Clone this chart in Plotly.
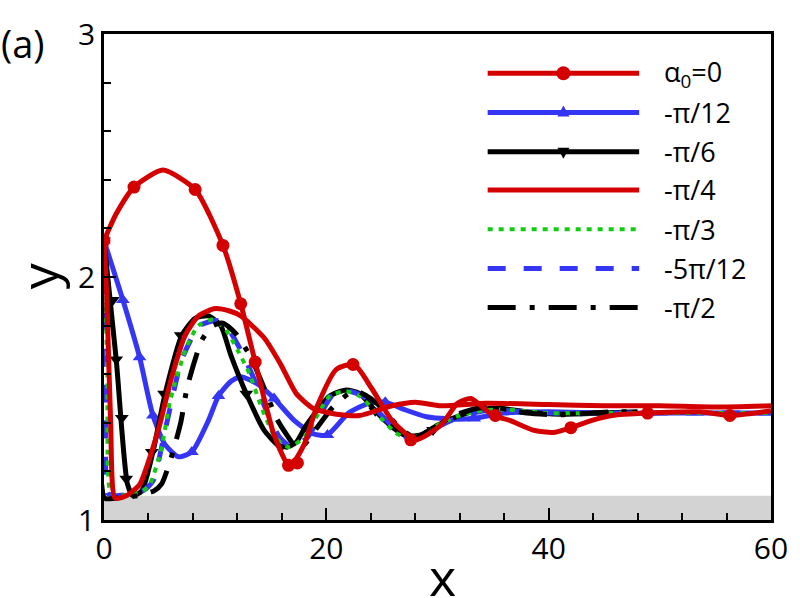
import plotly.graph_objects as go

# ---------------- data ----------------
# alpha0 = 0  (red, circles)
a0_x = [0, 1.1, 2.7, 5.3, 8.2, 10.7, 12.3, 13.6, 15.3, 16.7, 18.0, 19.1, 20.9, 22.5, 24.1, 25.9, 28.0, 30.3, 31.8, 33.0, 35.0, 36.5, 38.6, 40.4, 42.0, 43.9, 45.7, 48.9, 53.6, 56.3, 60]
a0_y = [2.15, 2.26, 2.37, 2.44, 2.36, 2.13, 1.89, 1.65, 1.35, 1.22, 1.31, 1.46, 1.62, 1.64, 1.54, 1.41, 1.33, 1.39, 1.48, 1.50, 1.43, 1.41, 1.37, 1.36, 1.38, 1.41, 1.43, 1.44, 1.445, 1.43, 1.45]
a0_mx = [0, 2.7, 8.2, 10.7, 12.3, 13.6, 16.6, 17.4, 22.4, 27.6, 35.2, 42.0, 48.9, 56.3]
a0_my = [2.15, 2.37, 2.36, 2.13, 1.89, 1.65, 1.225, 1.235, 1.64, 1.33, 1.43, 1.38, 1.44, 1.43]

# -pi/12  (blue, up triangles)
p12_x = [0, 1.7, 3.2, 4.4, 5.5, 6.7, 7.9, 9.4, 10.3, 11.4, 12.3, 13.8, 15.3, 17.1, 18.8, 20.1, 22.0, 23.8, 25.3, 27.0, 29.0, 31.5, 33.5, 36.0, 40.0, 45.0, 50.0, 55.0, 60]
p12_y = [2.15, 1.905, 1.67, 1.43, 1.31, 1.26, 1.28, 1.41, 1.51, 1.57, 1.59, 1.56, 1.50, 1.41, 1.355, 1.35, 1.44, 1.48, 1.485, 1.455, 1.425, 1.415, 1.42, 1.44, 1.445, 1.44, 1.44, 1.44, 1.44]
p12_mx = [0, 1.7, 3.2, 4.4, 7.9, 10.3, 15.3, 20.1, 25.3, 33.3]
p12_my = [2.15, 1.905, 1.67, 1.43, 1.28, 1.51, 1.50, 1.35, 1.485, 1.418]

# -pi/6  (black, down triangles)
p6_x = [0, 1.1, 2.1, 2.6, 3.4, 4.4, 5.5, 7.0, 8.2, 9.4, 10.5, 11.4, 12.9, 14.4, 15.6, 16.5, 17.3, 18.2, 20.3, 21.8, 23.0, 24.4, 26.0, 27.3, 28.5, 30.0, 32.0, 34.0, 35.5, 38.0, 41.0, 45.0, 48.0]
p6_y = [2.15, 1.66, 1.15, 1.10, 1.12, 1.28, 1.52, 1.76, 1.83, 1.84, 1.80, 1.68, 1.51, 1.37, 1.31, 1.30, 1.32, 1.39, 1.51, 1.535, 1.52, 1.45, 1.38, 1.345, 1.35, 1.39, 1.43, 1.455, 1.46, 1.445, 1.435, 1.44, 1.445]
p6_mx = [0, 0.8, 1.1, 1.6, 2.0, 4.3, 5.4, 6.9, 12.8, 15.9, 24.4, 29.6]
p6_my = [2.15, 1.905, 1.66, 1.42, 1.17, 1.28, 1.52, 1.76, 1.52, 1.30, 1.45, 1.37]

# -pi/4  (red, plain)
p4_x = [0, 0.25, 0.6, 1.0, 2.0, 3.2, 4.0, 5.0, 6.1, 7.3, 8.5, 10.0, 11.3, 12.3, 14.4, 15.9, 17.3, 18.8, 20.9, 23.0, 25.9, 28.0, 30.3, 34.4, 40.0, 45.0, 50.0, 55.0, 60]
p4_y = [2.15, 1.92, 1.40, 1.09, 1.10, 1.145, 1.24, 1.39, 1.59, 1.76, 1.84, 1.87, 1.86, 1.84, 1.75, 1.64, 1.52, 1.46, 1.435, 1.43, 1.47, 1.485, 1.47, 1.48, 1.475, 1.47, 1.47, 1.465, 1.47]

# -pi/3  (green, dotted)
p3_x = [0, 0.3, 0.5, 1.0, 3.5, 4.1, 5.1, 6.0, 7.5, 8.5, 9.8, 11.0, 12.0, 13.1, 14.2, 15.4, 16.6, 18.0, 20.3, 21.7, 23.0, 24.0, 25.1, 26.2, 27.3, 28.5, 30.0, 32.0, 34.0, 36.0, 40.0, 45.0, 50.0, 60]
p3_y = [2.15, 1.60, 1.13, 1.10, 1.12, 1.145, 1.28, 1.50, 1.72, 1.80, 1.825, 1.78, 1.70, 1.60, 1.46, 1.34, 1.30, 1.34, 1.51, 1.53, 1.51, 1.465, 1.41, 1.36, 1.335, 1.35, 1.39, 1.43, 1.45, 1.455, 1.44, 1.44, 1.44, 1.44]

# -5pi/12  (blue, dashed)
p512_x = [0, 0.2, 0.35, 1.0, 3.5, 4.4, 5.6, 7.0, 8.6, 10.2, 11.4, 12.4, 13.5, 14.6, 15.8, 16.9, 18.3, 20.5, 22.0, 23.3, 24.3, 25.4, 26.5, 27.6, 28.8, 30.3, 32.3, 34.3, 36.5, 40.0, 45.0, 50.0, 60]
p512_y = [2.15, 1.55, 1.11, 1.10, 1.12, 1.16, 1.39, 1.66, 1.80, 1.82, 1.77, 1.69, 1.58, 1.45, 1.34, 1.30, 1.34, 1.51, 1.53, 1.51, 1.465, 1.41, 1.36, 1.335, 1.35, 1.39, 1.43, 1.45, 1.45, 1.44, 1.44, 1.44, 1.44]

# -pi/2  (black, dash-dot)
p2_x = [0, 0.05, 1.0, 3.0, 4.5, 5.2, 6.0, 6.9, 7.5, 8.8, 9.8, 10.7, 11.8, 13.2, 14.7, 15.5, 16.3, 17.3, 18.0, 19.0, 20.5, 22.0, 22.7, 24.0, 25.0, 26.8, 28.0, 29.7, 31.5, 33.6, 35.0, 38.0, 41.0, 45.4, 48.0]
p2_y = [2.15, 1.09, 1.09, 1.10, 1.12, 1.15, 1.25, 1.40, 1.55, 1.74, 1.80, 1.81, 1.77, 1.67, 1.51, 1.42, 1.36, 1.30, 1.31, 1.37, 1.46, 1.52, 1.53, 1.50, 1.46, 1.37, 1.34, 1.38, 1.43, 1.46, 1.465, 1.44, 1.433, 1.445, 1.445]

legend_labels = ["α<sub>0</sub>=0", "-π/12", "-π/6", "-π/4", "-π/3", "-5π/12", "-π/2"]
x_ticks = [0, 20, 40, 60]
y_ticks = [1, 2, 3]
wall_top = 1.1

# ---------------- styles ----------------
RED = "#d40000"
BLUE = "#3535f5"
GREEN = "#11cc11"
BLACK = "#000000"
FONT = "Open Sans"
SM = 0.6

fig = go.Figure()

def curve(x, y, color, width, dash="solid"):
    fig.add_trace(go.Scatter(x=x, y=y, mode="lines",
                             line=dict(color=color, width=width, dash=dash, shape="spline", smoothing=SM),
                             showlegend=False, hoverinfo="skip"))

def marks(x, y, color, symbol, size):
    fig.add_trace(go.Scatter(x=x, y=y, mode="markers",
                             marker=dict(color=color, symbol=symbol, size=size, line=dict(width=0)),
                             showlegend=False, hoverinfo="skip"))

curve(p12_x, p12_y, BLUE, 5)
marks(p12_mx, p12_my, BLUE, "triangle-up", 12)
curve(p6_x, p6_y, BLACK, 5)
marks(p6_mx, p6_my, BLACK, "triangle-down", 12)
curve(p512_x, p512_y, BLUE, 5, "18px,18px")
curve(p3_x, p3_y, GREEN, 4, "5px,6px")
curve(p2_x, p2_y, BLACK, 5, "28px,14px,5px,14px")
curve(p4_x, p4_y, RED, 5)
curve(a0_x, a0_y, RED, 5)
marks(a0_mx, a0_my, RED, "circle", 13)

# wall band
shapes = [dict(type="rect", xref="x", yref="y", x0=0, x1=60, y0=1, y1=wall_top,
               fillcolor="#d3d3d3", line=dict(width=0), layer="below")]

# ---------------- manual legend ----------------
L, T, W, H = 104, 12, 678, 508
def px(x):
    return (x - L) / W
def py(y):
    return (T + H - y) / H

leg_styles = [
    (RED, "solid", 5, "circle"),
    (BLUE, "solid", 5, "up"),
    (BLACK, "solid", 5, "down"),
    (RED, "solid", 5, None),
    (GREEN, "5px,6px", 4, None),
    (BLUE, "18px,18px", 5, None),
    (BLACK, "28px,14px,5px,14px", 5, None),
]
row_y = [53, 94, 135, 175, 216, 257, 298]
annotations = []
for lab, (col, dash, w, mk), ry in zip(legend_labels, leg_styles, row_y):
    shapes.append(dict(type="line", xref="paper", yref="paper", x0=px(494), x1=px(648),
                       y0=py(ry), y1=py(ry), line=dict(color=col, width=w, dash=dash)))
    if mk == "circle":
        shapes.append(dict(type="circle", xref="paper", yref="paper", xsizemode="pixel", ysizemode="pixel",
                           xanchor=px(571), yanchor=py(ry), x0=-7, x1=7, y0=-7, y1=7,
                           fillcolor=col, line=dict(width=0)))
    elif mk == "up":
        shapes.append(dict(type="path", xref="paper", yref="paper", xsizemode="pixel", ysizemode="pixel",
                           xanchor=px(571), yanchor=py(ry), path="M -6,-4 L 6,-4 L 0,7 Z",
                           fillcolor=col, line=dict(width=0)))
    elif mk == "down":
        shapes.append(dict(type="path", xref="paper", yref="paper", xsizemode="pixel", ysizemode="pixel",
                           xanchor=px(571), yanchor=py(ry), path="M -6,4 L 6,4 L 0,-7 Z",
                           fillcolor=col, line=dict(width=0)))
    annotations.append(dict(text=lab, xref="paper", yref="paper", x=px(671), y=py(ry),
                            xanchor="left", yanchor="middle", showarrow=False,
                            font=dict(family=FONT, size=27, color="black")))

annotations += [
    dict(text="x", xref="paper", yref="paper", x=px(448), y=py(578), xanchor="center", yanchor="middle",
         showarrow=False, font=dict(family=FONT, size=52, color="black")),
    dict(text="y", xref="paper", yref="paper", x=px(36), y=py(265), xanchor="center", yanchor="middle",
         showarrow=False, textangle=-90, font=dict(family=FONT, size=52, color="black")),
    dict(text="(a)", xref="paper", yref="paper", x=px(22), y=py(21), xanchor="center", yanchor="middle",
         showarrow=False, font=dict(family=FONT, size=38, color="black")),
]

axis_common = dict(showgrid=False, zeroline=False, showline=True, linecolor="black", linewidth=2.5,
                   mirror=True, ticks="inside", ticklen=12, tickwidth=2, tickcolor="black",
                   ticklabeloverflow="allow",
                   tickfont=dict(family=FONT, size=30, color="black"))

fig.update_layout(
    width=800, height=598, margin=dict(l=L, r=800 - L - W, t=T, b=598 - T - H),
    paper_bgcolor="white", plot_bgcolor="white", showlegend=False,
    xaxis=dict(range=[0, 60], tickvals=x_ticks, ticktext=[str(v) for v in x_ticks],
               minor=dict(dtick=4, tick0=0, ticks="inside", ticklen=7, tickwidth=2, tickcolor="black"),
               **axis_common),
    yaxis=dict(range=[1, 3], tickvals=y_ticks, ticktext=[str(v) for v in y_ticks],
               minor=dict(dtick=0.2, tick0=1, ticks="inside", ticklen=7, tickwidth=2, tickcolor="black"),
               **axis_common),
    shapes=shapes, annotations=annotations,
)

fig.write_html("out.html", config={"displayModeBar": False},
               post_script="document.body.style.margin='0';document.body.style.padding='0';document.body.style.overflow='hidden';")
